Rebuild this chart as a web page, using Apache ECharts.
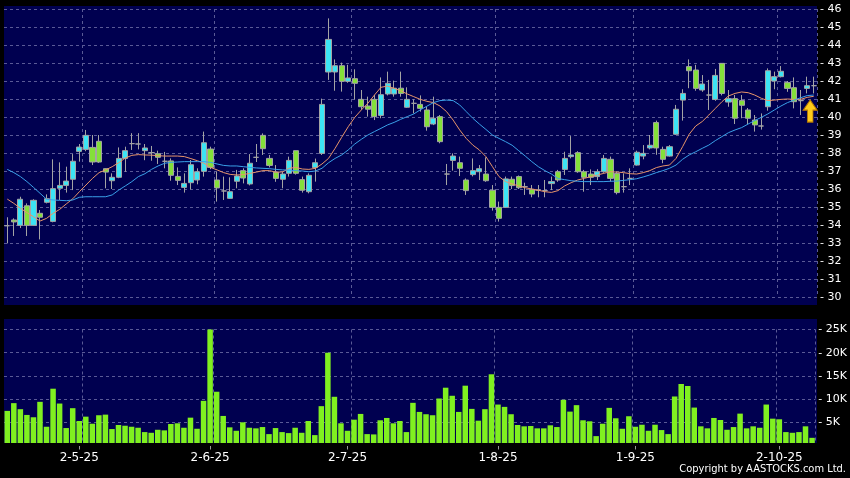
<!DOCTYPE html>
<html><head><meta charset="utf-8">
<script src="https://cdn.jsdelivr.net/npm/echarts@6/dist/echarts.min.js"></script>
<style>html,body{margin:0;padding:0;background:#000;}#c{width:850px;height:478px;}</style>
</head><body><div id="c"></div>
<script>
// ---- data ----
const openP = [33.96,34.28,33.98,35.07,33.98,34.65,35.26,34.2,36.04,36.2,
36.54,38.09,38.2,38.31,38.65,37.13,36.46,36.65,37.7,38.52,
38.5,38.13,38.02,37.96,37.54,37.56,36.7,36.09,36.35,36.5,
36.98,38.22,36.5,35.89,35.48,36.43,37.02,36.28,37.76,38.98,
37.7,36.94,36.54,36.87,38.13,36.52,35.85,37.19,37.98,42.5,
42.5,42.85,41.98,42.13,40.98,40.61,40.98,40.09,41.28,41.28,
41.6,40.54,40.76,40.7,40.39,39.61,40.02,36.83,37.59,37.46,
36.5,36.8,36.96,36.83,35.93,34.98,34.98,36.54,36.69,36.13,
35.98,35.94,35.91,36.3,36.96,37.09,37.8,38.02,36.96,36.83,
36.69,36.96,37.65,36.87,36.13,36.59,37.33,37.83,38.28,39.69,
38.2,37.83,39.04,40.94,42.8,42.61,41.5,41.22,40.98,42.98,
40.83,41.02,40.91,40.39,39.83,39.5,40.57,42.0,42.24,41.91,
41.63,40.91,41.59,41.74];
const closeP = [33.96,34.17,35.43,33.98,35.37,34.43,35.46,36.02,36.2,36.44,
37.54,38.33,38.98,37.5,37.5,36.94,36.65,37.7,38.13,38.52,
38.5,38.28,38.02,37.76,37.54,36.76,36.48,36.31,37.35,36.96,
38.57,37.2,36.06,35.89,35.85,36.72,36.61,37.43,37.76,38.24,
37.31,36.59,36.83,37.59,36.87,35.93,36.76,37.46,40.7,44.31,
42.85,41.98,42.17,41.87,40.57,40.43,40.02,41.24,41.87,41.6,
41.31,40.98,40.76,40.48,39.46,39.93,38.63,36.83,37.83,37.15,
35.91,37.02,37.13,36.46,34.98,34.37,36.56,36.19,36.07,36.13,
35.72,35.94,35.91,36.41,36.5,37.7,37.89,36.96,36.65,36.65,
36.96,37.7,36.59,35.8,36.13,36.59,38.04,37.98,38.43,38.28,
37.65,38.35,40.43,41.31,42.57,41.59,41.83,41.22,42.31,41.31,
41.02,39.93,40.65,39.93,39.56,39.5,42.57,42.24,42.54,41.59,
40.85,40.91,41.74,41.74];
const lowP = [32.98,33.39,33.83,33.39,33.95,33.2,35.2,34.15,35.39,35.8,
35.94,37.52,38.1,37.33,37.45,36.04,36.0,36.6,36.96,38.17,
38.2,37.6,37.57,37.39,37.15,36.46,36.22,35.8,35.98,36.26,
36.69,37.1,35.3,35.39,35.45,36.04,36.31,36.2,37.5,37.89,
37.2,36.4,36.04,36.69,36.8,35.8,35.76,36.41,37.89,42.06,
41.46,41.41,41.9,40.98,40.4,40.02,39.83,39.93,41.2,41.13,
41.13,40.5,40.2,40.3,39.24,39.55,38.54,36.22,37.02,36.72,
35.67,36.7,36.5,36.4,34.8,34.19,34.95,36.0,36.0,35.67,
35.54,35.54,35.54,35.94,36.4,36.78,37.7,36.9,35.85,36.22,
36.5,36.9,36.41,35.7,35.8,36.22,37.3,37.65,38.2,37.9,
37.43,37.8,39.0,39.8,41.6,41.46,41.4,40.39,40.9,41.2,
40.57,39.61,39.93,39.6,39.19,39.3,40.35,41.54,42.2,41.4,
40.48,40.11,41.31,41.31];
const highP = [34.43,34.37,35.57,35.2,35.43,34.83,35.7,37.65,37.48,37.24,
37.94,38.5,39.28,39.0,39.0,37.15,36.87,38.31,38.35,39.1,
39.1,38.5,38.39,38.13,38.06,37.7,37.2,36.87,37.61,37.15,
39.19,38.35,36.96,36.69,36.65,37.06,37.15,37.94,38.5,39.09,
37.89,37.33,36.96,37.8,38.13,36.69,36.87,37.69,41.02,45.48,
43.2,43.02,42.9,42.65,41.5,41.13,41.22,42.2,42.52,42.02,
42.52,41.65,40.98,41.2,40.57,41.13,40.11,37.39,37.98,37.8,
36.59,37.7,37.33,37.76,36.22,35.3,36.69,36.69,36.75,36.35,
36.22,36.22,36.5,36.69,37.06,38.07,38.94,38.1,37.06,37.09,
37.1,37.89,37.8,36.96,36.87,37.15,38.13,38.44,39.0,39.8,
38.35,38.44,40.67,41.54,43.2,42.9,42.33,42.06,42.67,43.0,
41.5,41.22,41.22,40.5,40.11,40.2,42.7,42.52,42.83,42.0,
42.2,41.5,42.24,42.24];
const maShort = [35.44,35.2,34.93,34.69,34.46,34.22,34.37,34.65,34.87,35.17,
35.46,35.85,36.22,36.59,36.91,37.06,37.24,37.46,37.72,37.87,
37.91,37.89,37.88,37.85,37.83,37.83,37.83,37.8,37.69,37.57,
37.43,37.2,37.06,36.91,36.81,36.78,36.8,36.87,36.94,37.02,
37.02,36.93,36.95,37.15,37.2,37.11,37.09,37.15,37.39,37.7,
38.26,38.87,39.46,39.98,40.39,40.76,41.22,41.65,41.72,41.59,
41.46,41.28,41.13,40.98,40.87,40.8,40.61,40.3,39.83,39.28,
38.81,38.44,38.17,37.8,37.24,36.69,36.41,36.28,36.17,36.07,
36.0,35.93,35.85,35.81,35.91,36.17,36.35,36.5,36.59,36.69,
36.78,36.87,36.96,36.94,36.91,36.85,36.83,36.91,37.02,37.19,
37.28,37.33,37.7,38.35,39.04,39.5,39.75,40.11,40.48,40.85,
41.17,41.31,41.39,41.35,41.22,41.04,40.91,40.94,40.98,41.0,
40.98,40.98,41.09,41.15];
const maLong = [37.09,36.91,36.69,36.41,36.09,35.76,35.43,35.39,35.37,35.35,
35.39,35.54,35.57,35.57,35.57,35.57,35.67,35.94,36.17,36.41,
36.69,36.85,37.09,37.28,37.43,37.48,37.5,37.52,37.52,37.52,
37.52,37.48,37.39,37.31,37.28,37.28,37.24,37.2,37.17,37.15,
37.13,37.09,37.06,37.05,37.02,37.0,36.96,37.0,37.15,37.46,
37.7,37.89,38.17,38.5,38.76,39.0,39.19,39.37,39.56,39.7,
39.87,40.02,40.17,40.4,40.6,40.8,40.91,40.94,40.91,40.67,
40.3,39.93,39.61,39.31,39.0,38.81,38.63,38.43,38.13,37.83,
37.52,37.24,37.02,36.83,36.58,36.52,36.46,36.43,36.41,36.41,
36.41,36.41,36.43,36.44,36.48,36.52,36.57,36.67,36.78,36.91,
37.02,37.15,37.33,37.65,37.89,38.07,38.26,38.44,38.69,38.91,
39.13,39.28,39.41,39.61,39.8,39.98,40.17,40.39,40.61,40.8,
40.94,41.07,41.19,41.22];
const volume = [7457,9130,7826,6587,6087,9413,4043,12240,9043,3761,
8043,5283,6217,4696,6522,6652,3543,4413,4261,4043,
3826,2891,2739,3391,3261,4630,4783,3826,6000,3609,
9630,26152,11587,6370,3913,3174,5000,3826,3696,3978,
2457,3761,2891,2674,3826,2739,5283,2239,8478,20000,
10500,4783,3174,5565,6804,2457,2391,5435,5935,4783,
5283,2891,9196,7239,6739,6522,10130,12457,10717,7239,
12891,7891,5348,7826,15348,8826,8326,6739,4413,4130,
4196,3696,3696,4348,3978,9848,7304,8696,5435,5217,
2022,4696,8109,5870,3609,6304,4043,4478,3174,4478,
3326,2457,10565,13261,12826,8174,4130,3696,5935,5500,
3391,3978,6870,3696,4130,3826,8826,5783,5652,2891,
2739,2891,4130,1652];
const tickIndex = [11,31,52,75,96,118];
const tickLabels = ['2-5-25','2-6-25','2-7-25','1-8-25','1-9-25','2-10-25'];
const gridLineIndex = [12,32,53,75,96,118];
const priceTicks = {min:30, max:46, step:1};
const volumeTicks = {min:0, max:25000, step:5000};
const arrowPoint = {index:122, price:40.33};

// ---- chart ----
const categories = openP.map((_, i) => String(i));
const candleData = openP.map((o, i) => [o, closeP[i], lowP[i], highP[i]]);
const NAVY = '#000050';
const GRIDC = '#5a5a96';
const FONT = '"DejaVu Sans", Verdana, sans-serif';
const splitStyle = {color: GRIDC, width: 1, type: [3, 3]};

const chart = echarts.init(document.getElementById('c'), null, {renderer: 'canvas'});
chart.setOption({
  backgroundColor: '#000',
  animation: false,
  graphic: [
    {type: 'rect', z: -10, silent: true, shape: {x: 4, y: 6, width: 813, height: 299}, style: {fill: NAVY}},
    {type: 'rect', z: -10, silent: true, shape: {x: 4, y: 319, width: 813, height: 124}, style: {fill: NAVY}},
    {type: 'rect', z: 100, silent: true, shape: {x: 4, y: 443, width: 813, height: 3}, style: {fill: '#000'}},
    {type: 'text', z: 100, right: 4, top: 464, style: {text: 'Copyright by AASTOCKS.com Ltd.', fill: '#fff',
      font: '11px "DejaVu Sans Condensed", "DejaVu Sans", sans-serif'}}
  ],
  grid: [
    {left: 4, right: 33, top: 9, height: 288},
    {left: 4, right: 33, top: 329.5, height: 116}
  ],
  xAxis: [
    {type: 'category', gridIndex: 0, data: categories, boundaryGap: true,
     axisLine: {show: false}, axisTick: {show: false}, axisLabel: {show: false},
     splitLine: {show: true, interval: (i) => gridLineIndex.includes(i), lineStyle: splitStyle}},
    {type: 'category', gridIndex: 1, data: categories, boundaryGap: true,
     axisLine: {show: false},
     axisTick: {show: true, alignWithLabel: true, length: 4, interval: (i) => tickIndex.includes(i), lineStyle: {color: '#999'}},
     axisLabel: {show: true, interval: (i) => tickIndex.includes(i), color: '#fff', fontSize: 12, fontFamily: FONT, margin: 6,
       formatter: (v, i) => { const k = tickIndex.indexOf(Number(v)); return k >= 0 ? tickLabels[k] : ''; }},
     splitLine: {show: true, interval: (i) => gridLineIndex.includes(i), lineStyle: splitStyle}}
  ],
  yAxis: [
    {type: 'value', gridIndex: 0, position: 'right', min: priceTicks.min, max: priceTicks.max, interval: priceTicks.step,
     axisLine: {show: false}, axisTick: {show: false},
     axisLabel: {color: '#fff', fontSize: 11, fontFamily: FONT, margin: 3, formatter: (v) => '- ' + v},
     splitLine: {show: true, lineStyle: splitStyle}},
    {type: 'value', gridIndex: 1, position: 'right', min: volumeTicks.min, max: volumeTicks.max, interval: volumeTicks.step,
     axisLine: {show: false}, axisTick: {show: false},
     axisLabel: {color: '#fff', fontSize: 11, fontFamily: FONT, margin: 3, formatter: (v) => v === 0 ? '' : '- ' + (v / 1000) + 'K'},
     splitLine: {show: true, lineStyle: splitStyle}}
  ],
  series: [
    {type: 'candlestick', xAxisIndex: 0, yAxisIndex: 0, data: candleData, barWidth: 5.6,
     itemStyle: {color: '#3ce4f4', color0: '#84e03a', borderColor: '#a4a4a4', borderColor0: '#a4a4a4', borderColorDoji: '#a4a4a4', borderWidth: 1},
     markPoint: {symbol: 'path://M5,0 L10,6 L7,6 L7,13 L3,13 L3,6 L0,6 Z', symbolSize: [14, 22], symbolOffset: [3, 0],
       itemStyle: {color: '#ffcc1a', borderColor: '#b87800', borderWidth: 1}, label: {show: false},
       data: [{coord: [arrowPoint.index, arrowPoint.price]}]}},
    {type: 'line', xAxisIndex: 0, yAxisIndex: 0, data: maShort, symbol: 'none', lineStyle: {color: '#e8956a', width: 1}, z: 3},
    {type: 'line', xAxisIndex: 0, yAxisIndex: 0, data: maLong, symbol: 'none', lineStyle: {color: '#3aa0e8', width: 1}, z: 3},
    {type: 'bar', xAxisIndex: 1, yAxisIndex: 1, data: volume, barWidth: 5.5, itemStyle: {color: '#80f020'}}
  ]
});
</script></body></html>
